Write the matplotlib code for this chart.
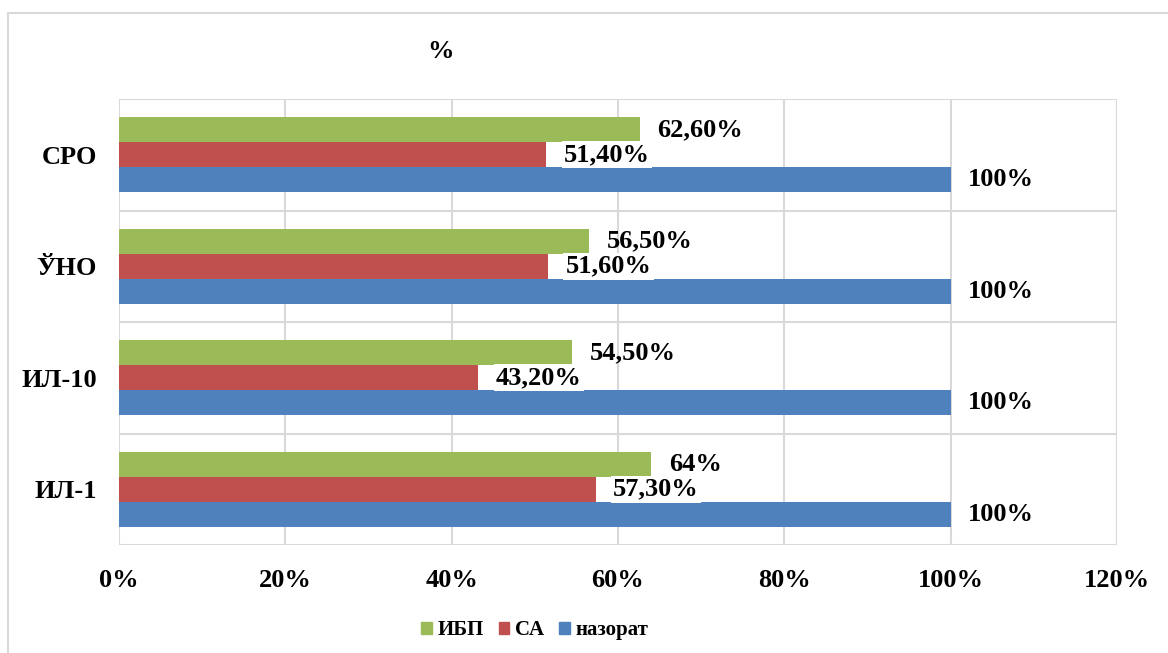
import numpy as np
import matplotlib.pyplot as plt
from matplotlib.lines import Line2D
from matplotlib.patches import Patch

plt.rcParams['font.family'] = ['Liberation Serif', 'DejaVu Serif']
plt.rcParams['font.weight'] = 'bold'

# データ（下から上へ）
categories = ['ИЛ-1', 'ИЛ-10', 'ЎНО', 'СРО']
ibp = [64.0, 54.5, 56.5, 62.6]
sa = [57.3, 43.2, 51.6, 51.4]
nazorat = [100, 100, 100, 100]
ibp_labels = ['64%', '54,50%', '56,50%', '62,60%']
sa_labels = ['57,30%', '43,20%', '51,60%', '51,40%']
nazorat_labels = ['100%', '100%', '100%', '100%']
xticks = [0, 20, 40, 60, 80, 100, 120]

c_green = '#9bbb59'
c_red = '#c0504d'
c_blue = '#4f81bd'
c_grid = '#d9d9d9'

W, H = 1168, 653
fs = 19
fig = plt.figure(figsize=(W / 100, H / 100), dpi=100)
ax = fig.add_axes([119 / W, 1 - 545 / H, (1117 - 119) / W, (545 - 99) / H])

y = np.arange(len(categories))
h = 0.225
ax.barh(y + h, ibp, height=h, color=c_green, zorder=3)
ax.barh(y, sa, height=h, color=c_red, zorder=3)
ax.barh(y - h, nazorat, height=h, color=c_blue, zorder=3)

# データラベル
off = 2.1
for i in range(len(categories)):
    ax.text(ibp[i] + off, y[i] + h, ibp_labels[i], va='center', ha='left',
            fontsize=fs, fontweight='bold', zorder=5)
    ax.text(sa[i] + off, y[i], sa_labels[i], va='center', ha='left',
            fontsize=fs, fontweight='bold', zorder=5,
            bbox=dict(facecolor='white', edgecolor='none', pad=1.5))
    ax.text(nazorat[i] + off, y[i] - h, nazorat_labels[i], va='center', ha='left',
            fontsize=fs, fontweight='bold', zorder=5)

ax.set_xlim(0, 120)
ax.set_ylim(-0.5, len(categories) - 0.5)
ax.set_xticks(xticks)
ax.set_xticklabels([f'{v}%' for v in xticks], fontsize=fs, fontweight='bold')
ax.set_yticks(y)
ax.set_yticklabels(categories, fontsize=fs, fontweight='bold')
ax.tick_params(axis='x', length=0, pad=17)
ax.tick_params(axis='y', length=0, pad=16)

for v in xticks:
    ax.axvline(v, color=c_grid, lw=1.5, zorder=1)
for b in np.arange(-0.5, len(categories), 1.0):
    ax.axhline(b, color=c_grid, lw=1.5, zorder=1)
for s in ax.spines.values():
    s.set_visible(False)

fig.text(441 / W, 1 - 52 / H, '%', ha='center', va='center', fontsize=fs, fontweight='bold')

handles = [Patch(color=c_green), Patch(color=c_red), Patch(color=c_blue)]
fig.legend(handles, ['ИБП', 'СА', 'назорат'], loc='center', ncol=3,
           bbox_to_anchor=(535 / W, 1 - 630 / H), frameon=False,
           handlelength=0.5, handleheight=0.5, handletextpad=0.3, columnspacing=0.7,
           prop={'size': 15, 'weight': 'bold'})

# 外枠
fig.add_artist(Line2D([8 / W, 1], [1 - 13 / H, 1 - 13 / H], color=c_grid, lw=1.5))
fig.add_artist(Line2D([8 / W, 8 / W], [0, 1 - 13 / H], color=c_grid, lw=1.5))

fig.savefig('out.png', dpi=100)
